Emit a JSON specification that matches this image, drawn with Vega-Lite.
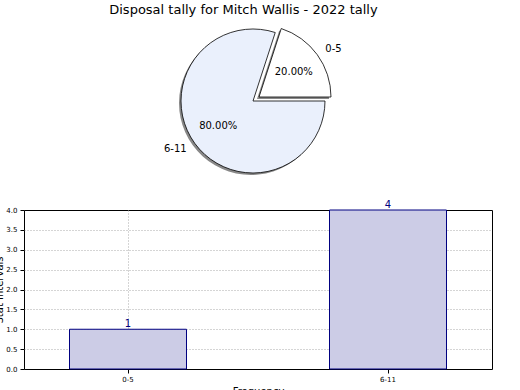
{
  "$schema": "https://vega.github.io/schema/vega-lite/v6.json",
  "title": {"text": "Disposal tally for Mitch Wallis - 2022 tally", "anchor": "middle", "fontSize": 13, "fontWeight": "normal", "font": "DejaVu Sans", "color": "#000", "offset": 8},
  "padding": {"left": -6, "top": 4, "right": 5, "bottom": 0},
  "bounds": "flush",
  "spacing": 33,
  "config": {
    "font": "DejaVu Sans",
    "view": {"stroke": "#000", "strokeWidth": 1}
  },
  "datasets": {
    "tally": [
      {"interval": "0-5", "count": 1},
      {"interval": "6-11", "count": 4}
    ]
  },
  "vconcat": [
    {
      "width": 458,
      "height": 152,
      "view": {"stroke": null},
      "data": {"name": "tally"},
      "transform": [
        {"stack": "count", "groupby": [], "sort": [{"field": "interval"}], "offset": "normalize", "as": ["s0", "s1"]},
        {"calculate": "(datum.s0 + datum.s1) / 2", "as": "mid"},
        {"calculate": "format(datum.s1 - datum.s0, '.2%')", "as": "pct"}
      ],
      "encoding": {
        "theta": {"field": "s0", "type": "quantitative", "scale": {"domain": [0, 1], "range": [0.3141593, 6.5973446]}},
        "theta2": {"field": "s1"}
      },
      "layer": [
        {
          "transform": [{"filter": "datum.interval == '6-11'"}],
          "mark": {"type": "arc", "radius": 72, "fill": "#888", "xOffset": -2, "yOffset": 2}
        },
        {
          "transform": [{"filter": "datum.interval == '6-11'"}],
          "mark": {"type": "arc", "radius": 72, "fill": "#eaf0fc", "stroke": "#000", "strokeWidth": 0.8}
        },
        {
          "transform": [{"filter": "datum.interval == '0-5'"}],
          "mark": {"type": "arc", "radius": 72, "fill": "#888", "xOffset": 4, "yOffset": -2}
        },
        {
          "transform": [{"filter": "datum.interval == '0-5'"}],
          "mark": {"type": "arc", "radius": 72, "fill": "#ffffff", "stroke": "#000", "strokeWidth": 0.8, "xOffset": 6, "yOffset": -4}
        },
        {
          "transform": [{"filter": "datum.interval == '6-11'"}],
          "mark": {"type": "text", "radius": 43, "fontSize": 10, "color": "#000"},
          "encoding": {"theta": {"field": "mid", "type": "quantitative"}, "theta2": null, "text": {"field": "pct"}}
        },
        {
          "transform": [{"filter": "datum.interval == '6-11'"}],
          "mark": {"type": "text", "radius": 82, "fontSize": 10, "color": "#000", "align": "right"},
          "encoding": {"theta": {"field": "mid", "type": "quantitative"}, "theta2": null, "text": {"field": "interval"}}
        },
        {
          "transform": [{"filter": "datum.interval == '0-5'"}],
          "mark": {"type": "text", "radius": 43, "fontSize": 10, "color": "#000", "xOffset": 6, "yOffset": -4},
          "encoding": {"theta": {"field": "mid", "type": "quantitative"}, "theta2": null, "text": {"field": "pct"}}
        },
        {
          "transform": [{"filter": "datum.interval == '0-5'"}],
          "mark": {"type": "text", "radius": 82, "fontSize": 10, "color": "#000", "align": "left", "xOffset": 6, "yOffset": -4},
          "encoding": {"theta": {"field": "mid", "type": "quantitative"}, "theta2": null, "text": {"field": "interval"}}
        }
      ]
    },
    {
      "width": 468,
      "height": 159,
      "data": {"name": "tally"},
      "encoding": {
        "x": {
          "field": "interval", "type": "nominal", "sort": ["0-5", "6-11"],
          "scale": {"paddingInner": 0.55, "paddingOuter": 0.175},
          "axis": {"title": "Frequency", "titleFontSize": 10, "titleFontWeight": "normal", "titlePadding": 4, "labelAngle": 0, "labelFontSize": 7, "labelColor": "#000", "domain": false, "tickColor": "#000", "tickSize": 4, "grid": true, "gridColor": "#aaa", "gridDash": [1, 2], "gridWidth": 1, "labelPadding": 2}
        },
        "y": {
          "field": "count", "type": "quantitative",
          "scale": {"domain": [0, 4], "nice": false},
          "axis": {"title": "Stat Intervals", "titleFontSize": 10, "titleFontWeight": "normal", "titlePadding": 1, "values": [0, 0.5, 1, 1.5, 2, 2.5, 3, 3.5, 4], "format": ".1f", "labelFontSize": 7, "labelColor": "#000", "domain": false, "tickColor": "#000", "tickSize": 4, "grid": true, "gridColor": "#aaa", "gridDash": [1, 2], "gridWidth": 1, "gridOpacity": {"condition": {"test": "datum.value == 4 || datum.value == 0", "value": 0}, "value": 1}, "labelPadding": 3}
        }
      },
      "layer": [
        {"mark": {"type": "bar", "fill": "#cccce6", "stroke": "#000080", "strokeWidth": 1}},
        {"mark": {"type": "text", "dy": -5, "fontSize": 10, "color": "#000080"}, "encoding": {"text": {"field": "count", "type": "quantitative"}}}
      ]
    }
  ]
}
